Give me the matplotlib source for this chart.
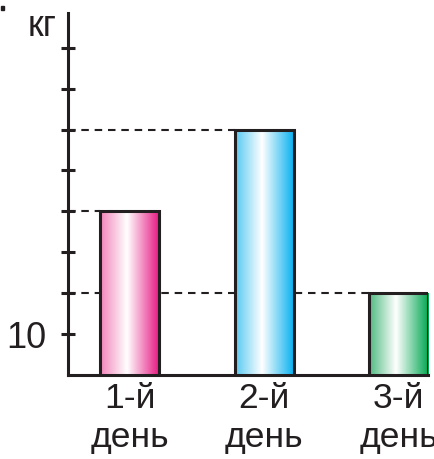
import numpy as np
import matplotlib
matplotlib.use('Agg')
import matplotlib.pyplot as plt
from matplotlib.colors import LinearSegmentedColormap

plt.rcParams['font.family'] = ['Liberation Sans', 'DejaVu Sans']

days = ['1-й\nдень', '2-й\nдень', '3-й\nдень']
mass = [13, 15, 11]
y_ticks = [10, 11, 12, 13, 14, 15, 16, 17]
y_ticklabels = ['10', '', '', '', '', '', '', '']
left_cols = ['#f282b8', '#55c9f2', '#4dba7f']
right_cols = ['#e6147f', '#00aeef', '#00a650']

ink = '#231f20'
fig = plt.figure(figsize=(4.35, 4.59), dpi=100, facecolor='white')
ax = fig.add_axes([68/435, 84/459, 360/435, 362/459])

x = np.arange(len(days))
bw = 0.44
xl = (-0.46, 2 + bw/2)
yl = (9, 17.85)

bars = ax.bar(x, mass, width=bw, facecolor='none', edgecolor=ink, lw=2.2, zorder=3)
grad = np.linspace(0, 1, 256).reshape(1, -1)
for b, c0, c1 in zip(bars, left_cols, right_cols):
    cm = LinearSegmentedColormap.from_list('g', [(0, c0), (0.45, '#ffffff'), (1, c1)])
    x0 = b.get_x(); h = b.get_height()
    im = ax.imshow(grad, cmap=cm, aspect='auto', extent=(x0, x0 + bw, yl[0], h), zorder=2)
    im.set_clip_path(b)
    # пунктир от оси до левого края столбика
    ax.plot([xl[0], x0], [h, h], color=ink, lw=1.5, ls=(0, (3.6, 2.8)), zorder=1, clip_on=False)

ax.set_xlim(*xl)
ax.set_ylim(*yl)

for s in ['top', 'right']:
    ax.spines[s].set_visible(False)
for s in ['left', 'bottom']:
    ax.spines[s].set_color(ink); ax.spines[s].set_linewidth(2.2)

ax.set_yticks(y_ticks)
ax.set_yticklabels(y_ticklabels, fontsize=26, color=ink)
ax.tick_params(axis='y', direction='inout', length=10.5, width=2.2, color=ink, pad=10)
ax.set_xticks(x)
ax.set_xticklabels(days, fontsize=25.5, color=ink, linespacing=1.22)
ax.tick_params(axis='x', length=0, pad=5)

fig.text(42/435, 1 - 26/459, 'кг', fontsize=26, color=ink, ha='center', va='center')
fig.patches.append(plt.Rectangle((1/435, 1 - 10/459), 3/435, 4/459, color=ink,
                                 transform=fig.transFigure, figure=fig))

fig.savefig('out.png', dpi=100, facecolor='white')
